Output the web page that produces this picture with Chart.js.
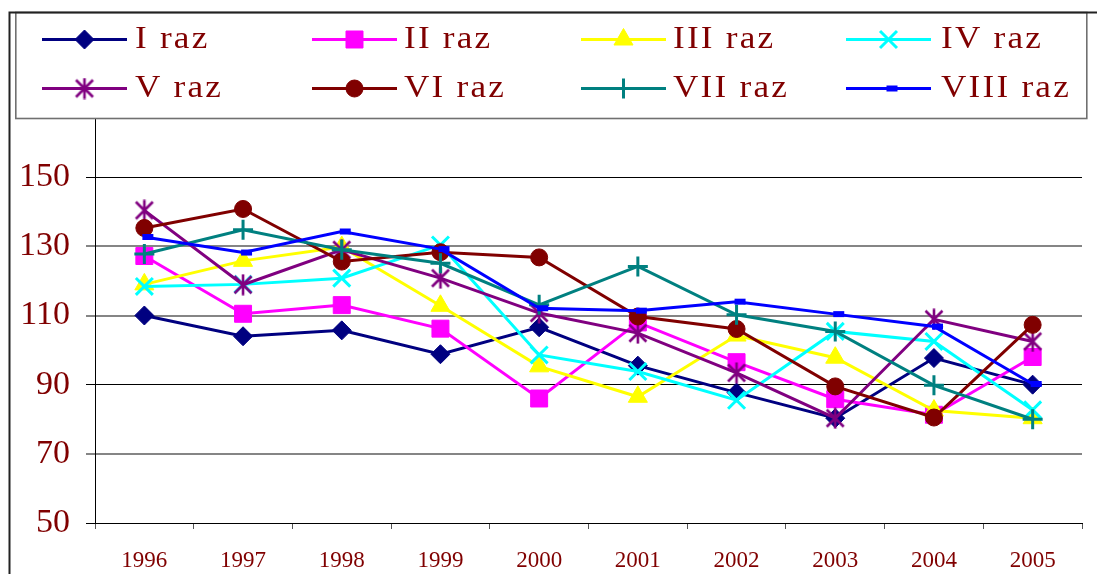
<!DOCTYPE html>
<html>
<head>
<meta charset="utf-8">
<script src="https://cdn.jsdelivr.net/npm/chart.js@4.4.1/dist/chart.umd.min.js"></script>
<style>
  html, body { margin: 0; padding: 0; background: #fff; overflow: hidden; }
  canvas { display: block; }
</style>
</head>
<body>
<canvas id="chart" width="1097" height="574"></canvas>
<script>
// Categories (years) and series names
const years = ['1996', '1997', '1998', '1999', '2000', '2001', '2002', '2003', '2004', '2005'];
const seriesNames = ['I raz', 'II raz', 'III raz', 'IV raz', 'V raz', 'VI raz', 'VII raz', 'VIII raz'];

// Series values
const raz1 = [110.0, 104.0, 105.7, 98.8, 106.6, 95.5, 87.7, 80.3, 97.7, 90.0];
const raz2 = [127.2, 110.5, 113.0, 106.2, 86.0, 108.0, 96.5, 85.8, 81.3, 98.0];
const raz3 = [119.0, 125.8, 129.8, 112.8, 95.3, 86.5, 104.2, 97.8, 82.5, 80.3];
const raz4 = [118.4, 119.0, 120.8, 130.4, 98.6, 93.8, 85.5, 105.4, 102.5, 82.7];
const raz5 = [140.4, 118.9, 129.0, 120.8, 110.7, 104.9, 93.4, 80.3, 108.9, 102.5];
const raz6 = [135.3, 140.8, 125.6, 128.3, 126.8, 109.7, 106.1, 89.5, 80.5, 107.3];
const raz7 = [127.8, 134.8, 129.0, 125.1, 113.1, 124.2, 110.2, 105.4, 89.8, 80.0];
const raz8 = [132.7, 128.2, 134.3, 129.2, 112.1, 111.4, 114.0, 110.4, 106.8, 90.2];

// Value axis range and step
const yMin = 50;
const yMax = 170;
const yStep = 20;

const seriesValues = [raz1, raz2, raz3, raz4, raz5, raz6, raz7, raz8];

// Custom marker images: asterisk and short dash
function makeAsterisk(color) {
  const c = document.createElement('canvas');
  c.width = 22; c.height = 22;
  const g = c.getContext('2d');
  g.strokeStyle = color; g.lineWidth = 2.6; g.lineCap = 'butt';
  g.beginPath();
  g.moveTo(11, 0.5); g.lineTo(11, 21.5);
  g.moveTo(2.5, 2.5); g.lineTo(19.5, 19.5);
  g.moveTo(19.5, 2.5); g.lineTo(2.5, 19.5);
  g.stroke();
  return c;
}
function makeDash(color) {
  const c = document.createElement('canvas');
  c.width = 24; c.height = 8;
  const g = c.getContext('2d');
  g.fillStyle = color;
  g.fillRect(10, 1, 11, 6);
  return c;
}

const TEXT_COLOR = '#800000';
const FONT = '"Liberation Serif", "Times New Roman", serif';

const styles = [
  { color: '#000080', pointStyle: 'rectRot',  radius: 9.5, bw: 1 },
  { color: '#FF00FF', pointStyle: 'rect',     radius: 12,  bw: 1 },
  { color: '#FFFF00', pointStyle: 'triangle', radius: 11,  bw: 1 },
  { color: '#00FFFF', pointStyle: 'crossRot', radius: 12,  bw: 3 },
  { color: '#800080', pointStyle: makeAsterisk('#800080'), radius: 10, bw: 0 },
  { color: '#800000', pointStyle: 'circle',   radius: 8.5, bw: 1 },
  { color: '#008080', pointStyle: 'cross',    radius: 10,  bw: 3 },
  { color: '#0000FF', pointStyle: makeDash('#0000FF'), radius: 6, bw: 0 },
];

const datasets = seriesNames.map((name, i) => ({
  label: name,
  data: seriesValues[i],
  borderColor: styles[i].color,
  backgroundColor: styles[i].color,
  borderWidth: 3,
  tension: 0,
  pointStyle: styles[i].pointStyle,
  pointRadius: styles[i].radius,
  pointHoverRadius: styles[i].radius,
  pointBorderWidth: styles[i].bw,
  pointBackgroundColor: styles[i].color,
  pointBorderColor: styles[i].color,
  order: seriesNames.length - i   // later series are painted on top
}));

// Grid lines that render as soft grey bands
const greyLines = [130, 110, 70];
const isGrey = (ctx) => ctx.tick && greyLines.includes(ctx.tick.value);

// Outer frame and the legend box overlaying the top of the plot
const legendCols = [42, 312, 581, 846];
const legendTextX = [135, 404, 673, 941];
const legendRows = [39.5, 88.5];

const frameAndLegend = {
  id: 'frameAndLegend',
  beforeDraw(chart) {
    const c = chart.ctx;
    c.save();
    c.fillStyle = '#fff';
    c.fillRect(0, 0, chart.width, chart.height);
    c.restore();
  },
  afterDraw(chart) {
    const c = chart.ctx;
    c.save();
    // legend box
    c.fillStyle = '#fff';
    c.fillRect(15, 12, 1072, 107);
    c.strokeStyle = '#707070';
    c.lineWidth = 1.6;
    c.strokeRect(15.8, 12.5, 1071, 106);

    // legend entries
    seriesNames.forEach((name, i) => {
      const col = i % 4, row = Math.floor(i / 4);
      const x0 = legendCols[col], y = legendRows[row];
      const st = styles[i];
      c.strokeStyle = st.color;
      c.lineWidth = 3;
      c.beginPath();
      c.moveTo(x0, y);
      c.lineTo(x0 + 85, y);
      c.stroke();
      c.fillStyle = st.color;
      c.strokeStyle = st.color;
      c.lineWidth = st.bw;
      if (Chart.helpers && Chart.helpers.drawPoint) {
        Chart.helpers.drawPoint(c, { pointStyle: st.pointStyle, radius: st.radius, rotation: 0, borderWidth: st.bw }, x0 + 42.5, y);
      }
      // labels are slightly widened serif text
      c.save();
      c.translate(legendTextX[col], y + 8);
      c.scale(1.1, 1);
      c.fillStyle = TEXT_COLOR;
      c.font = '32px ' + FONT;
      c.textAlign = 'left';
      c.textBaseline = 'alphabetic';
      if ('letterSpacing' in c) c.letterSpacing = '2px';
      c.fillText(name, 0, 0);
      c.restore();
    });

    // outer chart frame
    c.strokeStyle = '#222';
    c.lineWidth = 2;
    c.beginPath();
    c.moveTo(9.5, 574);
    c.lineTo(9.5, 12.5);
    c.lineTo(1097, 12.5);
    c.stroke();
    c.restore();
  }
};

new Chart(document.getElementById('chart'), {
  type: 'line',
  data: { labels: years, datasets },
  plugins: [frameAndLegend],
  options: {
    responsive: false,
    animation: false,
    devicePixelRatio: 1,
    layout: { padding: { left: 0, top: 108, right: 2, bottom: 0 } },
    plugins: { legend: { display: false }, tooltip: { enabled: false } },
    scales: {
      x: {
        offset: true,
        grid: {
          display: true,
          offset: true,
          drawOnChartArea: false,
          drawTicks: true,
          tickLength: 6,
          tickColor: '#555',
          lineWidth: 1
        },
        border: { display: true, color: '#000', width: 1 },
        ticks: {
          color: TEXT_COLOR,
          font: { family: FONT, size: 23 },
          padding: 18,
          maxRotation: 0
        },
        afterFit(scale) { scale.height = 51; }
      },
      y: {
        min: yMin,
        max: yMax,
        ticks: {
          stepSize: yStep,
          color: TEXT_COLOR,
          font: { family: FONT, size: 34 },
          padding: 16
        },
        grid: {
          color: (ctx) => isGrey(ctx) ? '#858585' : '#000',
          lineWidth: (ctx) => isGrey(ctx) ? 2 : 1,
          tickLength: 9
        },
        border: { display: true, color: '#000', width: 1 },
        afterFit(scale) { scale.width = 95; }
      }
    }
  }
});
</script>
</body>
</html>
